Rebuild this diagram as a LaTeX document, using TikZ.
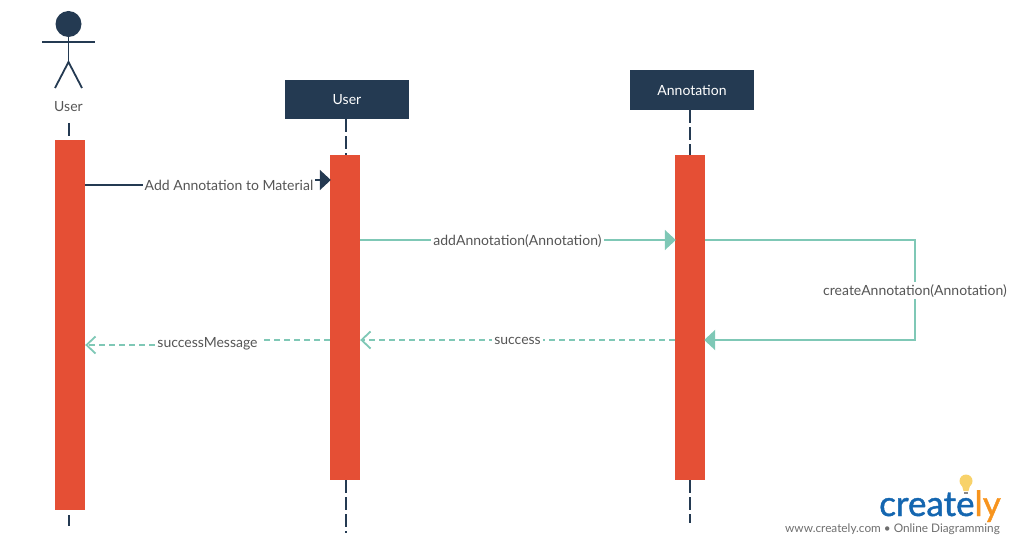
\documentclass[tikz,border=0pt]{standalone}
\usepackage{fontspec}
\setmainfont{Lato}[Extension=.ttf,UprightFont=*-Regular]
\newfontfamily\logofont{Lato}[Extension=.ttf,UprightFont=*-Regular,FakeBold=1.2]
\usepackage{xcolor}
\usetikzlibrary{arrows.meta,positioning,calc}
\definecolor{boxnavy}{RGB}{36,58,82}
\definecolor{barred}{RGB}{229,79,53}
\definecolor{msgteal}{RGB}{127,200,182}
\definecolor{textgrey}{RGB}{85,85,85}
\definecolor{logoblue}{RGB}{20,102,176}
\definecolor{logoorange}{RGB}{247,148,30}
\definecolor{logobulb}{RGB}{248,210,106}

\begin{document}
\begin{tikzpicture}[
    x=1pt, y=-1pt,
    headbox/.style={rectangle, fill=boxnavy, text=white, minimum width=124pt, font=\fontsize{14}{16}\selectfont},
    bar/.style={rectangle, fill=barred, minimum width=30pt, inner sep=0pt},
    lifeline/.style={boxnavy, line width=1.8pt, dash pattern=on 13pt off 4pt},
    stick/.style={boxnavy, line width=1.8pt},
    msg/.style={msgteal, line width=1.8pt},
    msgback/.style={msgteal, line width=1.5pt, dash pattern=on 6pt off 4pt},
    msgtip/.style={-{Triangle[length=11pt,width=20pt]}, shorten >=-1pt},
    backtip/.style={-{Straight Barb[length=9pt,width=17pt,line width=1.8pt]}},
    msglabel/.style={fill=white, text=textgrey, inner sep=2pt, yshift=-0.8pt, font=\fontsize{14}{16}\selectfont}
]
    \useasboundingbox (0,0) rectangle (1014,545);

    % actor
    \node[circle, fill=boxnavy, minimum size=26pt, inner sep=0pt] (head) at (68.5,24) {};
    \coordinate (hip) at (68.5,62);
    \coordinate (armleft) at (42,42);
    \coordinate (armright) at (95,42);
    \coordinate (footleft) at (55,88);
    \coordinate (footright) at (82,88);
    \draw[stick] (head) -- (hip);
    \draw[stick] (armleft) -- (armright);
    \draw[stick] (footleft) -- (hip) -- (footright);
    \node[text=textgrey, font=\fontsize{14}{16}\selectfont] (actorlabel) at (68.5,106.5) {User};

    % heads and bars
    \node[headbox, minimum height=39pt] (usrbox) at (347,99.5) {User};
    \node[headbox, minimum height=40pt] (annbox) at (692,90) {Annotation};
    \node[bar, minimum height=370pt] (actorbar) at (70,325) {};
    \node[bar, minimum height=325pt] (usrbar) at (345,317.5) {};
    \node[bar, minimum height=325pt] (annbar) at (690,317.5) {};

    % lifelines
    \coordinate (actortop) at (69,123);
    \coordinate (actorlow) at (69,515);
    \coordinate (actorend) at (69,526);
    \coordinate (usrend) at (346,533);
    \coordinate (annend) at (690,523);
    \draw[lifeline] (actortop) -- (actortop |- actorbar.north);
    \draw[lifeline] (actorlow) -- (actorend);
    \draw[lifeline] (usrend |- usrbox.south) -- (usrend |- usrbar.north);
    \draw[lifeline] (usrend |- usrbar.south) -- (usrend);
    \draw[lifeline] (annend |- annbox.south) -- (annend |- annbar.north);
    \draw[lifeline] (annend |- annbar.south) -- (annend);

    % levels of the messages
    \coordinate (addlow) at (229,185);
    \coordinate (addhigh) at (229,180);
    \coordinate (calllevel) at (0,240);
    \coordinate (backlevel) at (0,340);
    \coordinate (backlow) at (210,345);
    \coordinate (backhigh) at (210,340);
    \coordinate (selfcorner) at (915,240);
    \coordinate (selfback) at (915,340);

    % messages
    \draw[boxnavy, line width=1.8pt, msgtip] (actorbar.east |- addlow) -- (addlow) -- (addhigh) -- (usrbar.west |- addhigh);
    \node[msglabel] (addmat) at (229,185) {Add Annotation to Material};
    \draw[msg, msgtip] (usrbar.east |- calllevel) -- node[msglabel] (addann) {addAnnotation(Annotation)} (annbar.west |- calllevel);
    \draw[msg] (annbar.east |- calllevel) -- (selfcorner) -- (915,290);
    \draw[msg, line width=2.2pt, msgtip] (915,290) -- (selfback) -- (annbar.east |- selfback);
    \node[msglabel] (create) at (915,290) {createAnnotation(Annotation)};
    \draw[msgback, backtip] (annbar.west |- backlevel) -- node[msglabel, pos=.5] (success) {success} (usrbar.east |- backlevel);
    \draw[msgback, backtip] (usrbar.west |- backlevel) -- (backhigh) -- (backlow) -- (actorbar.east |- backlow);
    \node[msglabel] (succmsg) at (207.5,342.5) {successMessage};

    % logo
    \node[inner sep=0pt, anchor=base west, font=\logofont\fontsize{35}{38}\selectfont] (logotext) at (879,516) {\textcolor{logoblue}{create}\textcolor{logoorange}{ly}};
    \node[circle, fill=logobulb, minimum size=13pt, inner sep=0pt] (bulb) at (966,481) {};
    \fill[logobulb] (961.5,484) -- (970.5,484) -- (968.5,491) -- (963.5,491) -- cycle;
    \fill[textgrey!70] (964,492) rectangle (968,494);
    \node[text=textgrey!85, inner sep=0pt, anchor=east, font=\fontsize{11.8}{13}\selectfont] (logourl) at (1000,529) {www.creately.com • Online Diagramming};
\end{tikzpicture}
\end{document}
